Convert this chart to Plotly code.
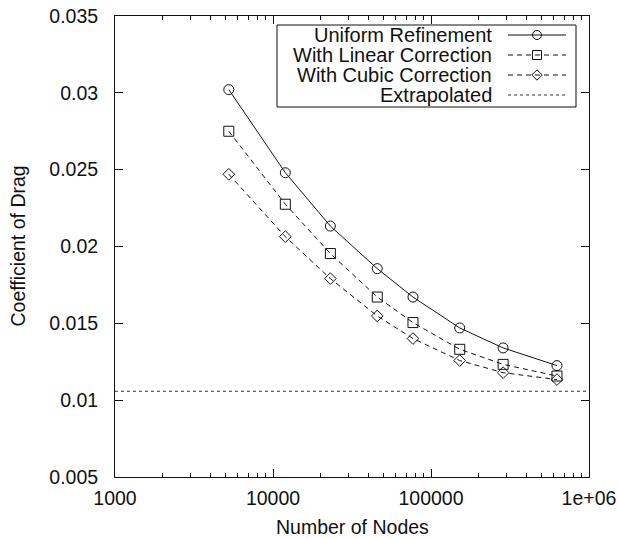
import plotly.graph_objects as go

# ---- data ----
nodes = [5250, 11970, 23070, 45700, 76900, 152000, 286000, 627000]
uniform = [0.03021, 0.02480, 0.02133, 0.01856, 0.01671, 0.01470, 0.01340, 0.01225]
linear = [0.02750, 0.02275, 0.01954, 0.01671, 0.01505, 0.01331, 0.01233, 0.01157]
cubic = [0.02470, 0.02064, 0.01791, 0.01548, 0.01401, 0.01258, 0.01179, 0.01134]
extrapolated = 0.01058

series_names = ["Uniform Refinement", "With Linear Correction",
                "With Cubic Correction", "Extrapolated"]

x_tickvals = [1000, 10000, 100000, 1000000]
x_ticktext = ["1000", "10000", "100000", "1e+06"]
y_tickvals = [0.005, 0.01, 0.015, 0.02, 0.025, 0.03, 0.035]
y_ticktext = ["0.005", "0.01", "0.015", "0.02", "0.025", "0.03", "0.035"]

x_title = "Number of Nodes"
y_title = "Coefficient of Drag"

# ---- styling ----
W, H = 618, 539
L, R, T, B = 115, 29, 16, 62
FONT = "Liberation Sans, Arial, sans-serif"
FS = 19.5
LFS = 20
INK = "#111111"
DASH = "5px,4px"
DOT = "3px,3px"

styles = [
    dict(dash="solid", symbol="circle-open", size=10),
    dict(dash=DASH, symbol="square-open", size=10),
    dict(dash=DASH, symbol="diamond-open", size=9),
]

fig = go.Figure()

for vals, st, name in zip([uniform, linear, cubic], styles, series_names[:3]):
    fig.add_trace(go.Scatter(
        x=nodes, y=vals, mode="lines+markers", name=name, showlegend=False,
        line=dict(color=INK, width=1, dash=st["dash"]),
        marker=dict(symbol=st["symbol"], size=st["size"], color=INK,
                    line=dict(color=INK, width=1)),
    ))

fig.add_trace(go.Scatter(
    x=[1000, 1000000], y=[extrapolated, extrapolated], mode="lines",
    name=series_names[3], showlegend=False,
    line=dict(color="#333333", width=1, dash=DOT),
))

# ---- custom gnuplot-style legend (text right-aligned, sample to its right) ----
pw, ph = W - L - R, H - T - B
box = dict(x0=277 - L, x1=576 - L, y0=25 - T, y1=107 - T)
row_y = [35 - T, 55 - T, 75 - T, 95 - T]
text_right = 494 - L
samp_x0, samp_x1 = 508 - L, 566 - L
samp_mid = (samp_x0 + samp_x1) / 2

fig.add_shape(type="rect", xref="x2", yref="y2",
              x0=box["x0"], x1=box["x1"], y0=box["y0"], y1=box["y1"],
              line=dict(color=INK, width=1), fillcolor="white", layer="below")

legend_styles = styles + [dict(dash=DOT, symbol=None, size=0)]
for i, (name, st) in enumerate(zip(series_names, legend_styles)):
    y = row_y[i]
    fig.add_trace(go.Scatter(
        x=[samp_x0, samp_x1], y=[y, y], xaxis="x2", yaxis="y2", mode="lines",
        showlegend=False, hoverinfo="skip",
        line=dict(color=INK if i < 3 else "#333333", width=1, dash=st["dash"]),
    ))
    if st["symbol"]:
        fig.add_trace(go.Scatter(
            x=[samp_mid], y=[y], xaxis="x2", yaxis="y2", mode="markers",
            showlegend=False, hoverinfo="skip",
            marker=dict(symbol=st["symbol"], size=st["size"] - 1, color=INK,
                        line=dict(color=INK, width=1)),
        ))
    fig.add_annotation(x=text_right, y=y, xref="x2", yref="y2", text=name,
                       showarrow=False, xanchor="right", yanchor="middle",
                       font=dict(family=FONT, size=LFS, color=INK))

# ---- axis titles placed in pixel positions ----
def px_to_paper(px, py):
    return (px - L) / pw, (H - B - py) / ph

tx, ty = px_to_paper(L + pw / 2, 527)
fig.add_annotation(x=tx, y=ty, xref="paper", yref="paper", text=x_title,
                   showarrow=False, xanchor="center", yanchor="middle",
                   font=dict(family=FONT, size=FS, color=INK))
tx, ty = px_to_paper(17, T + ph / 2)
fig.add_annotation(x=tx, y=ty, xref="paper", yref="paper", text=y_title,
                   showarrow=False, xanchor="center", yanchor="middle", textangle=-90,
                   font=dict(family=FONT, size=FS, color=INK))

axis_common = dict(
    showline=True, linecolor=INK, linewidth=1, mirror="allticks",
    ticks="inside", tickcolor=INK, tickwidth=1, showgrid=False, zeroline=False,
    tickfont=dict(family=FONT, size=FS, color=INK),
)

minor_x = [m * 10 ** e for e in (3, 4, 5) for m in range(2, 10)]

fig.update_layout(
    width=W, height=H,
    margin=dict(l=L, r=R, t=T, b=B, autoexpand=False),
    paper_bgcolor="white", plot_bgcolor="white",
    font=dict(family=FONT, size=FS, color=INK),
    xaxis=dict(
        type="log", range=[3, 6], tickvals=x_tickvals, ticktext=x_ticktext,
        ticklen=8, ticklabelstandoff=4,
        minor=dict(tickvals=minor_x, ticks="inside", ticklen=4, tickcolor=INK, showgrid=False),
        **axis_common,
    ),
    yaxis=dict(
        range=[0.005, 0.035], tickvals=y_tickvals, ticktext=y_ticktext,
        ticklen=8, ticklabelstandoff=12,
        **axis_common,
    ),
    xaxis2=dict(overlaying="x", range=[0, pw], visible=False, fixedrange=True),
    yaxis2=dict(overlaying="y", range=[ph, 0], visible=False, fixedrange=True),
    showlegend=False,
)

fig.write_html(
    "out.html",
    config={"displayModeBar": False, "staticPlot": True},
    post_script="document.body.style.margin='0';document.body.style.overflow='hidden';",
)
